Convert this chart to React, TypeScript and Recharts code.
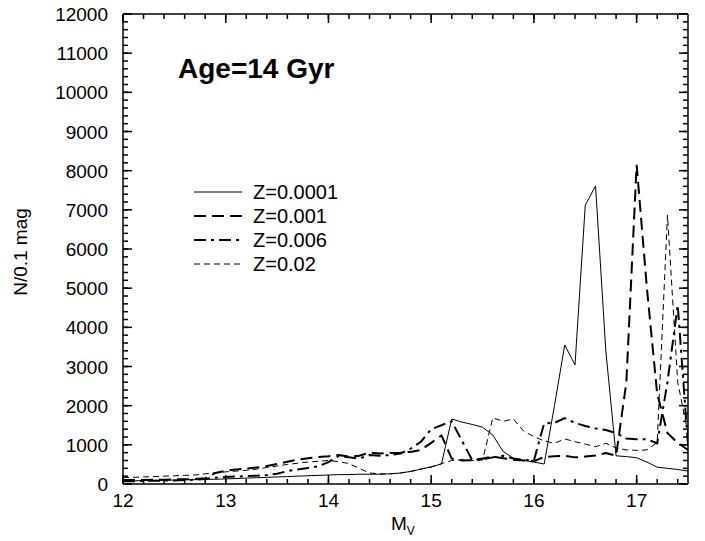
import { LineChart, Line, XAxis, YAxis } from 'recharts';

// absolute magnitude bins (0.1 mag)
const mv = [
  12.0, 12.1, 12.2, 12.3, 12.4, 12.5, 12.6, 12.7, 12.8, 12.9,
  13.0, 13.1, 13.2, 13.3, 13.4, 13.5, 13.6, 13.7, 13.8, 13.9,
  14.0, 14.1, 14.2, 14.3, 14.4, 14.5, 14.6, 14.7, 14.8, 14.9,
  15.0, 15.1, 15.2, 15.3, 15.4, 15.5, 15.6, 15.7, 15.8, 15.9,
  16.0, 16.1, 16.2, 16.3, 16.4, 16.5, 16.6, 16.7, 16.8, 16.9,
  17.0, 17.1, 17.2, 17.3, 17.4, 17.5,
];

const z0001 = [
  80, 80, 90, 90, 100, 100, 110, 110, 120, 120,
  130, 140, 150, 160, 170, 180, 190, 200, 210, 220,
  230, 240, 240, 250, 250, 250, 260, 280, 320, 380,
  440, 510, 1660, 1580, 1520, 1450, 1250, 830, 660, 600,
  560, 510, 2000, 3550, 3040, 7120, 7610, 3400, 720, 700,
  670, 560, 430, 400, 370, 330,
];

const z001 = [
  100, 100, 100, 110, 110, 120, 120, 130, 150, 280,
  340, 370, 390, 420, 460, 510, 570, 620, 660, 690,
  710, 740, 700, 720, 800, 780, 790, 800, 820, 870,
  1050, 1240, 650, 600, 610, 650, 700, 660, 620, 600,
  580, 690, 710, 720, 680, 700, 730, 790, 720, 2600,
  8150, 5000, 2300, 1300, 1050, 870,
];

const z006 = [
  70, 70, 80, 80, 90, 90, 100, 110, 130, 160,
  180, 190, 200, 210, 230, 260, 330, 370, 410, 450,
  560, 720, 680, 650, 740, 720, 740, 780, 900, 1080,
  1400, 1500, 1600, 1100, 610, 630, 680, 720, 650, 620,
  600, 1550, 1560, 1680, 1560, 1480, 1420, 1380, 1300, 1160,
  1140, 1140, 1040, 2600, 4570, 1000,
];

const z02 = [
  160, 170, 180, 190, 200, 210, 220, 230, 260, 290,
  310, 330, 350, 380, 420, 460, 500, 530, 560, 580,
  600, 570, 520, 400, 280, 260, 260, 280, 320, 380,
  430, 520, 600, 620, 600, 610, 1690, 1600, 1660, 1350,
  1210, 1100, 1040, 1150, 1080, 1020, 950, 1040, 920, 870,
  860, 870, 1060, 6870, 2600, 1300,
];

const xTicks = [
  12, 12.2, 12.4, 12.6, 12.8, 13, 13.2, 13.4, 13.6, 13.8,
  14, 14.2, 14.4, 14.6, 14.8, 15, 15.2, 15.4, 15.6, 15.8,
  16, 16.2, 16.4, 16.6, 16.8, 17, 17.2, 17.4,
];
const yMajor = [0, 1000, 2000, 3000, 4000, 5000, 6000, 7000, 8000, 9000, 10000, 11000, 12000];
const yTicks = yMajor.flatMap((v, i) => (i === 0 ? [v] : [v - 800, v - 600, v - 400, v - 200, v]));

const series = [
  { key: 'z0001', name: 'Z=0.0001', width: 1, dash: undefined },
  { key: 'z001', name: 'Z=0.001', width: 2, dash: '12 6' },
  { key: 'z006', name: 'Z=0.006', width: 2, dash: '12 5 3 5' },
  { key: 'z02', name: 'Z=0.02', width: 1, dash: '6 4' },
];

const data = mv.map((m, i) => ({ mv: m, z0001: z0001[i], z001: z001[i], z006: z006[i], z02: z02[i] }));

const FONT = '"Liberation Sans", Arial, sans-serif';
const TICK = 5; // minor tick length, drawn inward by the axis itself
const MAJOR = 9;
const isMajor = (v: number, step: number) => Math.abs(v / step - Math.round(v / step)) < 1e-6;

// the axis draws every tick line (negative tickSize = inward);
// this only adds the longer major mark and the label
function XTick(props: any) {
  const { x, y, payload, top } = props;
  const v = payload.value;
  const major = isMajor(v, 1);
  const axisY = top ? y - TICK : y + TICK;
  return (
    <g>
      {major && <rect x={x - 0.75} y={top ? axisY : axisY - MAJOR} width={1.5} height={MAJOR} fill="#000" />}
      {!top && major && (
        <text x={x} y={axisY + 23} textAnchor="middle" fontSize={19} fontFamily={FONT} fill="#000">{v}</text>
      )}
    </g>
  );
}

function YTick(props: any) {
  const { x, y, payload, right } = props;
  const v = payload.value;
  const major = isMajor(v, 1000);
  const axisX = right ? x + TICK : x - TICK;
  return (
    <g>
      {major && <rect x={right ? axisX - MAJOR : axisX} y={y - 0.75} width={MAJOR} height={1.5} fill="#000" />}
      {!right && major && (
        <text x={axisX - 15} y={y + 7} textAnchor="end" fontSize={19} fontFamily={FONT} fill="#000">{v}</text>
      )}
    </g>
  );
}

const axisLine = { stroke: '#000', strokeWidth: 1.5 };
const tickLine = { stroke: '#000', strokeWidth: 1.5 };

export default function App() {
  return (
    <div style={{ position: 'absolute', left: 0, top: 0, width: 705, height: 541, background: '#fff' }}>
      <LineChart width={705} height={541} data={data} margin={{ top: 0, right: 0, bottom: 0, left: 0 }}>
        <XAxis xAxisId="b" dataKey="mv" type="number" domain={[12, 17.5]} ticks={xTicks} interval={0}
          height={57} tickSize={-TICK} tickMargin={0} tickLine={tickLine} axisLine={axisLine}
          tick={(p: any) => <XTick {...p} />} allowDataOverflow />
        <XAxis xAxisId="t" orientation="top" dataKey="mv" type="number" domain={[12, 17.5]} ticks={xTicks} interval={0}
          height={14} tickSize={-TICK} tickMargin={0} tickLine={tickLine} axisLine={axisLine}
          tick={(p: any) => <XTick {...p} top />} allowDataOverflow />
        <YAxis yAxisId="l" type="number" domain={[0, 12000]} ticks={yTicks} interval={0}
          width={123} tickSize={-TICK} tickMargin={0} tickLine={tickLine} axisLine={axisLine}
          tick={(p: any) => <YTick {...p} />} allowDataOverflow />
        <YAxis yAxisId="r" orientation="right" type="number" domain={[0, 12000]} ticks={yTicks} interval={0}
          width={17} tickSize={-TICK} tickMargin={0} tickLine={tickLine} axisLine={axisLine}
          tick={(p: any) => <YTick {...p} right />} allowDataOverflow />
        {series.map(s => (
          <Line key={s.key} xAxisId="b" yAxisId="l" type="linear" dataKey={s.key} name={s.name}
            stroke="#000" strokeWidth={s.width} strokeDasharray={s.dash} dot={false} activeDot={false}
            isAnimationActive={false} />
        ))}
      </LineChart>
      <svg width={705} height={541} style={{ position: 'absolute', left: 0, top: 0, pointerEvents: 'none' }}>
        <text x={178} y={78} fontSize={28} fontWeight="bold" fontFamily={FONT} fill="#000">Age=14 Gyr</text>
        {series.map((s, i) => (
          <g key={s.key}>
            <line x1={194} x2={242} y1={192 + i * 24} y2={192 + i * 24} stroke="#000" strokeWidth={s.width} strokeDasharray={s.dash} />
            <text x={253} y={199 + i * 24} fontSize={20} fontFamily={FONT} fill="#000">{s.name}</text>
          </g>
        ))}
        <text x={0} y={0} transform="translate(27 252) rotate(-90)" textAnchor="middle" fontSize={19} fontFamily={FONT} fill="#000">N/0.1 mag</text>
        <text x={391} y={530} fontSize={19} fontFamily={FONT} fill="#000">
          M<tspan fontSize={12} dy={5}>V</tspan>
        </text>
      </svg>
    </div>
  );
}
